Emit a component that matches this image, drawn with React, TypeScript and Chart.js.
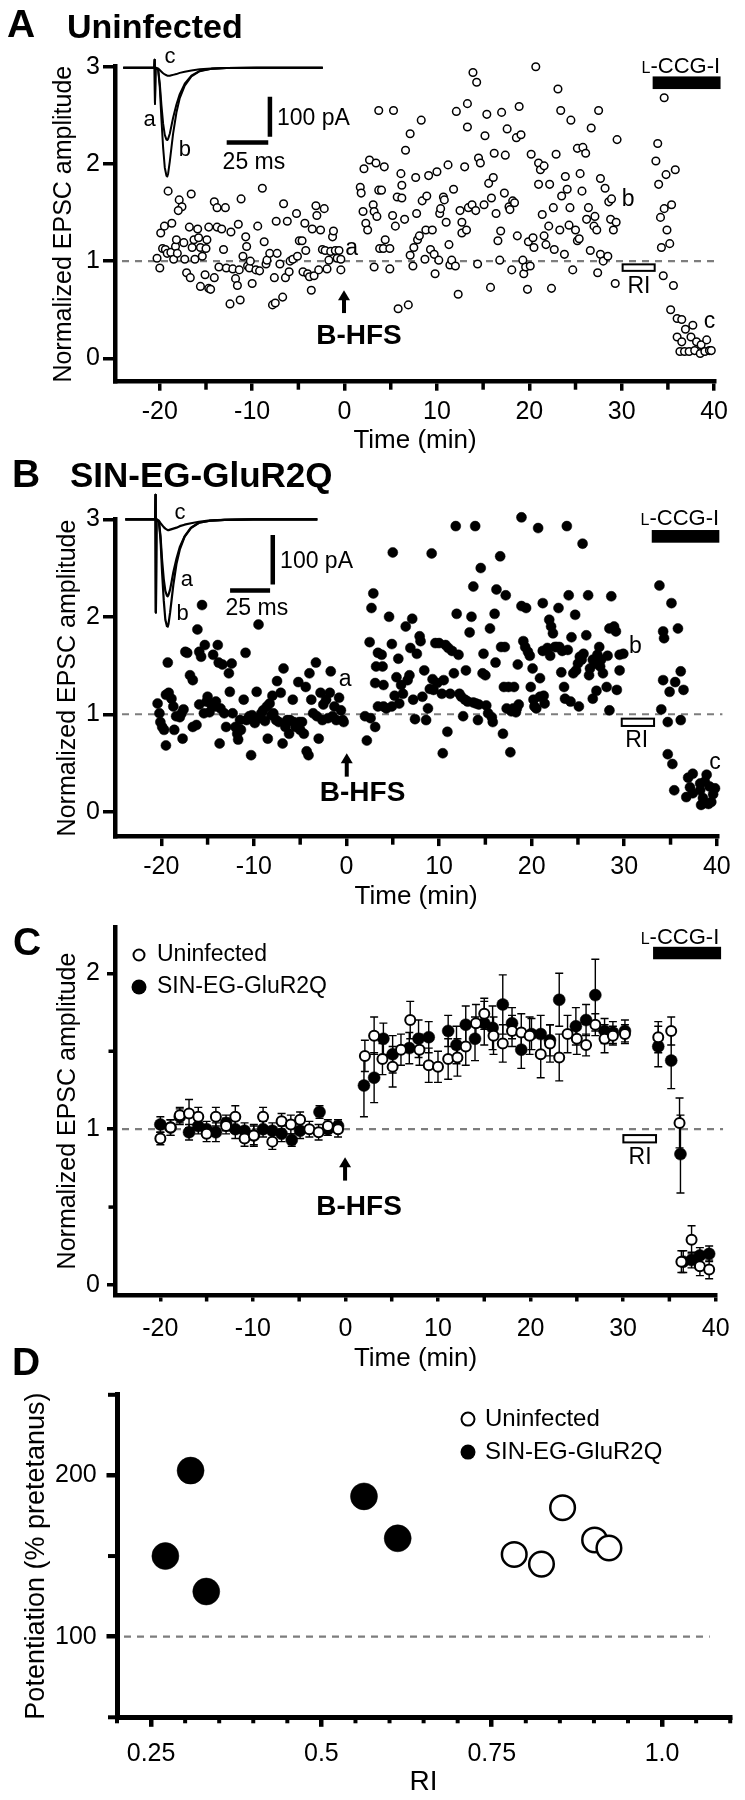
import React, { useEffect, useRef } from "react";
import { Chart, registerables } from "chart.js";

Chart.register(...registerables);

const FONT = '"Liberation Sans", Arial, Helvetica, sans-serif';
const INK = "#000000";
const DASH = "#7d7d7d";
Chart.defaults.color = INK;
Chart.defaults.font.family = FONT;

// ---------------- axis ticks ----------------
const timeTicks = [-20, -10, 0, 10, 20, 30, 40];
const timeMinorTicks = [-15, -5, 5, 15, 25, 35];
const ampTicksAB = [0, 1, 2, 3];
const ampTicksC = [0, 1, 2];
const ampMinorTicksC = [0.5, 1.5];
const riTicks = [0.25, 0.5, 0.75, 1.0];
const riTickLabels = ["0.25", "0.5", "0.75", "1.0"];
const riMinorTicks = [0.2, 0.3, 0.35, 0.4, 0.45, 0.55, 0.6, 0.65, 0.7, 0.8, 0.85, 0.9, 0.95, 1.05, 1.1];
const potTicks = [100, 200];
const potMinorTicks = [50, 150, 250];

// ---------------- panel A: uninfected, single cell [time (min), normalized EPSC] ----------------
const uninfectedA: [number, number][] = [
  [-20.3, 1.03], [-20.0, 0.93], [-19.9, 1.29], [-19.5, 1.36], [-19.1, 1.72], [-19.7, 1.13], [-19.4, 1.12], [-18.7, 1.39],
  [-19.2, 1.08], [-18.8, 1.09], [-18.5, 1.02], [-18.3, 1.15], [-18.2, 1.22], [-17.9, 1.63], [-17.6, 1.56], [-18.0, 1.52],
  [-18.1, 1.08], [-17.3, 1.02], [-17.4, 1.19], [-17.1, 0.88], [-16.6, 1.69], [-16.8, 1.35], [-16.7, 0.83], [-16.5, 1.14],
  [-16.3, 1.22], [-16.2, 1.02], [-15.9, 1.33], [-15.8, 1.24], [-15.6, 0.74], [-15.6, 1.14], [-15.4, 1.05], [-15.1, 0.86],
  [-15.0, 1.13], [-14.7, 0.72], [-14.5, 0.71], [-14.9, 1.22], [-14.1, 0.83], [-14.1, 1.61], [-13.8, 1.55], [-14.7, 1.35],
  [-13.8, 1.35], [-13.6, 0.94], [-13.3, 1.33], [-13.1, 1.12], [-12.9, 1.55], [-12.8, 0.93], [-12.4, 0.56], [-12.3, 1.30],
  [-12.1, 0.92], [-11.8, 0.82], [-11.6, 0.75], [-11.5, 1.38], [-11.3, 0.60], [-11.4, 0.91], [-11.2, 1.64], [-11.0, 1.05],
  [-10.7, 1.25], [-10.6, 1.15], [-10.5, 0.95], [-10.3, 0.93], [-10.2, 1.00], [-10.0, 0.77], [-9.6, 0.91], [-9.4, 1.36],
  [-9.2, 0.90], [-8.9, 1.75], [-8.7, 1.20], [-8.5, 0.97], [-8.4, 1.01], [-8.1, 1.08], [-7.8, 0.55], [-7.5, 0.57],
  [-7.6, 0.83], [-7.4, 1.41], [-7.3, 1.08], [-7.0, 0.97], [-6.7, 0.63], [-6.6, 1.59], [-6.4, 0.83], [-6.2, 1.41],
  [-6.0, 0.89], [-5.9, 1.00], [-5.6, 1.02], [-5.2, 1.49], [-5.1, 1.05], [-4.9, 1.21], [-4.6, 1.21], [-4.5, 0.89],
  [-4.3, 1.39], [-4.2, 1.11], [-4.0, 0.87], [-3.8, 0.84], [-3.6, 0.70], [-3.5, 1.33], [-3.3, 0.85], [-3.1, 1.57],
  [-3.0, 1.47], [-2.8, 0.91], [-2.6, 1.32], [-2.4, 1.12], [-2.2, 1.54], [-2.1, 1.11], [-1.9, 0.92], [-1.7, 1.01],
  [-1.5, 1.10], [-1.3, 1.25], [-1.2, 1.31], [-1.0, 1.11], [-0.8, 1.03], [-0.6, 1.11], [-0.4, 0.91], [-0.4, 1.02],
  [1.7, 1.76], [1.8, 1.70], [2.1, 1.95], [2.7, 2.04], [3.4, 2.01], [2.0, 1.51], [2.3, 1.39], [2.5, 1.32],
  [3.1, 1.58], [3.2, 1.51], [3.7, 1.73], [3.2, 0.94], [3.5, 1.46], [3.8, 1.13], [3.7, 2.55],
  [4.0, 1.73], [4.3, 1.97], [4.4, 1.22], [4.2, 1.13], [4.9, 1.13], [4.9, 0.92], [5.3, 2.55], [5.2, 1.47],
  [5.5, 1.36], [5.7, 1.66], [5.8, 0.51], [6.1, 1.90], [6.2, 1.78], [6.2, 1.65], [6.5, 1.43], [6.6, 2.14],
  [6.9, 0.55], [7.1, 1.06], [7.1, 2.31], [7.4, 0.95], [7.5, 1.14], [7.7, 1.86], [7.8, 1.49], [7.9, 1.22],
  [8.1, 1.26], [8.3, 2.45], [8.4, 1.62], [8.7, 1.02], [8.8, 1.32], [8.9, 1.67], [9.1, 1.88], [9.3, 1.12],
  [9.5, 1.32], [9.7, 1.07], [9.8, 0.87], [10.0, 1.92], [10.2, 1.01], [10.3, 1.49], [10.4, 1.54], [10.7, 1.66],
  [10.8, 1.63], [11.0, 1.40], [11.2, 1.99], [11.3, 1.17], [11.4, 0.96], [11.6, 1.01], [11.8, 1.74], [12.0, 0.95],
  [12.1, 2.54], [12.3, 0.66], [12.5, 1.52], [12.7, 1.40], [12.7, 1.29], [13.0, 1.97], [13.2, 1.32], [13.3, 2.62],
  [13.3, 2.38], [13.4, 1.55], [13.8, 1.58], [13.9, 2.94], [14.2, 1.52], [14.3, 2.84], [14.4, 0.97], [14.5, 2.06],
  [14.7, 2.01], [15.1, 1.58], [15.2, 2.29], [15.4, 2.51], [15.6, 1.80], [15.8, 0.73], [15.9, 1.65], [16.1, 1.86],
  [16.2, 2.11], [16.4, 1.49], [16.6, 1.21], [16.8, 1.01], [16.9, 1.31], [17.0, 2.53], [17.3, 1.70], [17.4, 2.09],
  [17.6, 2.36], [17.8, 1.56], [17.9, 1.53], [18.1, 0.91], [18.2, 1.62], [18.4, 1.60], [18.6, 2.27], [18.7, 1.26],
  [18.9, 2.59], [19.1, 2.30], [19.3, 1.01], [19.4, 0.87], [19.6, 0.94], [19.8, 0.71], [19.9, 1.20], [20.1, 0.95],
  [20.2, 2.10], [20.4, 1.24], [20.5, 1.14], [20.7, 3.00], [21.0, 2.01], [21.0, 1.79], [21.2, 1.94], [21.4, 1.48],
  [21.6, 1.98], [21.6, 1.26], [21.8, 1.17], [22.1, 1.36], [22.2, 1.79], [22.4, 0.72], [22.6, 1.55], [22.7, 1.12],
  [22.9, 2.10], [23.1, 2.77], [23.3, 1.32], [23.4, 2.55], [23.5, 1.67], [23.8, 1.07], [23.9, 1.87], [24.1, 1.74],
  [24.3, 1.37], [24.4, 1.55], [24.5, 2.45], [24.7, 0.91], [25.0, 1.32], [25.2, 2.16], [25.2, 1.21], [25.4, 1.23],
  [25.5, 1.90], [25.7, 1.72], [25.8, 2.17], [26.1, 2.11], [26.2, 1.43], [26.4, 1.55], [26.6, 1.11], [26.7, 2.37],
  [27.0, 1.36], [27.1, 1.46], [27.3, 1.32], [27.4, 0.88], [27.5, 2.55], [27.7, 1.85], [27.7, 1.07], [28.0, 1.00],
  [28.2, 1.75], [28.5, 1.05], [28.6, 1.61], [28.8, 1.43], [28.9, 1.64], [29.1, 1.32], [29.3, 0.77], [29.4, 1.40],
  [29.5, 2.25],
  [33.9, 2.21], [33.7, 2.03], [34.0, 1.79], [34.2, 1.45], [34.3, 1.14], [34.5, 0.85], [34.6, 2.68], [34.6, 1.54],
  [34.8, 1.89], [34.9, 1.32], [35.2, 1.18], [35.4, 1.58], [35.6, 0.75], [35.8, 1.94], [35.3, 0.50], [36.0, 0.41],
  [36.5, 0.40], [36.9, 0.30], [37.7, 0.34], [36.0, 0.22], [36.5, 0.17], [37.5, 0.22], [38.1, 0.17], [38.6, 0.14],
  [39.2, 0.19], [36.3, 0.07], [36.8, 0.07], [37.3, 0.07], [37.9, 0.08], [38.5, 0.05], [39.0, 0.07], [39.5, 0.08],
  [39.7, 0.08],
];

// ---------------- panel B: SIN-EG-GluR2Q, single cell ----------------
const sinB: [number, number][] = [
  [-20.4, 1.11], [-20.2, 1.01], [-20.1, 0.92], [-19.9, 0.87], [-19.7, 0.84], [-19.5, 0.68], [-19.3, 1.53], [-19.5, 1.20],
  [-19.2, 1.22], [-18.9, 1.16], [-18.7, 1.08], [-18.6, 0.84], [-18.4, 0.98], [-18.0, 0.97], [-17.8, 1.01], [-17.7, 0.75],
  [-17.6, 1.05], [-17.4, 1.64], [-17.2, 1.63], [-16.9, 1.40], [-16.6, 1.35], [-16.6, 0.87], [-16.2, 0.89], [-16.1, 1.87],
  [-15.9, 1.64], [-15.9, 1.10], [-15.7, 1.59], [-15.6, 2.12], [-15.4, 1.01], [-15.3, 1.71], [-15.1, 1.13], [-15.0, 1.18],
  [-14.8, 1.02], [-14.6, 1.10], [-14.4, 1.61], [-14.2, 1.08], [-14.1, 1.13], [-13.9, 1.71], [-13.8, 1.53], [-13.7, 0.70],
  [-13.6, 1.06], [-13.4, 1.51], [-13.2, 1.01], [-13.0, 0.87], [-12.7, 1.42], [-12.6, 1.23], [-12.4, 1.52], [-12.3, 1.01],
  [-12.0, 0.87], [-11.8, 0.80], [-11.7, 0.74], [-11.5, 0.94], [-11.4, 0.84], [-11.1, 1.15], [-10.9, 1.63], [-10.8, 0.94],
  [-10.5, 0.98], [-10.3, 0.58], [-10.2, 0.99], [-9.9, 0.91], [-9.7, 1.23], [-9.5, 1.92], [-9.4, 0.96], [-9.2, 1.01],
  [-9.0, 1.04], [-8.8, 0.93], [-8.6, 1.08], [-8.5, 0.75], [-8.3, 1.11], [-8.1, 0.99], [-8.0, 1.19], [-7.9, 1.01],
  [-7.6, 0.94], [-7.5, 1.34], [-7.3, 0.92], [-7.1, 1.22], [-6.9, 0.70], [-6.8, 1.47], [-6.6, 0.87], [-6.4, 0.94],
  [-6.2, 0.80], [-6.1, 0.94], [-5.8, 1.15], [-5.7, 0.92], [-5.5, 0.87], [-5.2, 1.33], [-5.1, 0.92], [-5.0, 0.84],
  [-4.8, 0.92], [-4.6, 0.80], [-4.4, 1.28], [-4.3, 0.62], [-4.1, 0.58], [-4.0, 1.42], [-3.8, 1.15], [-3.6, 1.01],
  [-3.3, 1.53], [-3.2, 0.98], [-3.0, 0.75], [-2.8, 1.22], [-2.6, 0.94], [-2.5, 1.10], [-2.2, 1.15], [-2.0, 0.96],
  [-1.8, 1.22], [-1.7, 1.44], [-1.5, 0.98], [-1.3, 1.08], [-1.1, 0.94], [-0.8, 1.17], [-0.6, 1.04], [-0.4, 0.94],
  [-0.3, 0.92],
  [2.0, 0.98], [2.2, 0.73], [2.6, 0.96], [2.9, 2.24], [2.7, 2.09], [2.5, 1.74], [3.1, 0.87], [3.2, 1.49],
  [3.1, 1.32], [3.4, 1.63], [3.4, 1.08],
  [3.8, 1.61], [3.9, 1.49], [4.0, 1.30], [4.0, 1.08], [4.3, 1.06], [4.6, 2.00], [4.9, 1.08], [4.9, 1.72],
  [5.0, 2.66], [5.2, 1.19], [5.4, 1.38], [5.6, 1.57], [5.7, 1.11], [5.9, 1.30], [6.1, 1.21], [6.4, 1.90],
  [6.6, 1.35], [6.8, 1.40], [6.9, 1.68], [7.1, 1.98], [7.2, 1.15], [7.4, 0.95], [7.6, 1.62], [7.9, 1.80],
  [8.0, 1.75], [8.2, 1.18], [8.4, 1.45], [8.6, 0.94], [8.8, 1.06], [9.0, 1.26], [9.2, 2.65], [9.3, 1.36],
  [9.4, 1.25], [9.6, 1.73], [9.8, 1.32], [10.0, 1.73], [10.3, 1.21], [10.4, 0.60], [10.5, 1.35], [10.7, 1.71],
  [10.9, 0.82], [11.0, 1.68], [11.2, 1.21], [11.4, 1.65], [11.6, 1.42], [11.8, 2.93], [11.9, 2.03], [12.1, 1.61],
  [12.2, 1.21], [12.4, 1.18], [12.6, 0.98], [12.8, 1.15], [12.9, 1.45], [13.1, 1.13], [13.3, 1.84], [13.5, 2.00],
  [13.7, 2.31], [13.7, 1.12], [13.9, 2.93], [14.0, 1.11], [14.2, 0.94], [14.3, 1.10], [14.5, 2.50], [14.7, 1.42],
  [14.8, 1.62], [15.0, 1.40], [15.1, 1.09], [15.3, 1.01], [15.5, 1.88], [15.7, 0.97], [15.8, 0.92], [16.0, 2.03],
  [16.1, 1.53], [16.2, 2.28], [16.6, 2.62], [16.7, 1.69], [16.9, 0.80], [17.0, 1.28], [17.1, 1.69], [17.2, 2.22],
  [17.3, 1.06], [17.5, 1.28], [17.7, 0.61], [17.8, 1.03], [18.0, 1.06], [18.1, 1.28], [18.3, 1.02], [18.4, 1.06],
  [18.5, 1.51], [18.6, 1.10], [18.9, 2.11], [18.9, 3.02], [19.1, 1.75], [19.3, 1.69], [19.4, 2.09], [19.6, 1.64],
  [19.8, 1.60], [19.9, 1.28], [20.1, 1.47], [20.2, 1.15], [20.3, 1.08], [20.5, 1.06], [20.7, 2.91], [20.9, 1.37],
  [20.9, 1.18], [21.2, 2.14], [21.2, 1.65], [21.3, 1.19], [21.4, 1.11], [21.7, 1.68], [21.9, 1.97], [22.0, 1.60],
  [22.1, 1.90], [22.3, 1.83], [22.5, 1.69], [22.7, 1.69], [22.9, 2.09], [23.0, 1.69], [23.2, 1.43], [23.3, 1.65],
  [23.5, 1.28], [23.6, 1.16], [23.8, 2.93], [23.9, 1.66], [24.0, 2.22], [24.2, 1.13], [24.3, 1.79], [24.5, 1.42],
  [24.7, 2.02], [24.8, 1.45], [25.0, 1.52], [25.1, 1.08], [25.2, 1.59], [25.4, 1.56], [25.5, 2.75], [25.6, 1.62],
  [25.9, 1.81], [26.1, 2.22], [26.2, 1.40], [26.3, 1.47], [26.6, 1.16], [26.6, 1.56], [26.8, 1.52], [27.0, 1.24],
  [27.1, 1.61], [27.3, 1.69], [27.4, 1.49], [27.5, 1.56], [27.7, 1.42], [28.1, 1.28], [28.2, 1.60], [28.4, 1.04],
  [28.4, 1.88], [28.6, 2.21], [28.9, 1.90], [29.1, 1.85], [29.2, 1.25], [29.5, 1.45], [29.5, 1.61], [29.9, 1.62],
  [33.8, 2.32], [35.1, 2.14], [34.2, 1.85], [34.3, 1.78], [35.8, 1.88], [34.2, 1.35], [34.9, 1.23], [35.5, 1.33],
  [36.1, 1.44], [36.4, 1.25], [34.0, 1.05], [34.7, 0.92], [36.1, 0.94], [34.7, 0.59], [35.2, 0.49], [35.4, 0.22],
  [36.9, 0.35], [37.4, 0.39], [38.9, 0.38], [36.7, 0.15], [37.1, 0.25], [37.4, 0.19], [38.2, 0.29], [38.2, 0.22],
  [38.7, 0.31], [39.2, 0.26], [39.6, 0.18], [38.5, 0.14], [38.7, 0.09], [39.1, 0.08], [38.3, 0.07], [39.4, 0.10],
  [39.8, 0.24],
];

// ---------------- panel C: averages [time, mean, sem] ----------------
const uninfectedC: [number, number, number][] = [
  [-20, 0.94, 0.04], [-18.9, 1.01, 0.05], [-17.9, 1.09, 0.05], [-16.9, 1.10, 0.09], [-15.9, 1.08, 0.06],
  [-15.0, 0.97, 0.05], [-14.0, 1.08, 0.06], [-12.9, 1.02, 0.05], [-11.9, 1.08, 0.07], [-10.9, 0.94, 0.05],
  [-9.9, 0.96, 0.07], [-8.9, 1.08, 0.06], [-7.9, 0.92, 0.05], [-6.9, 1.05, 0.05], [-5.9, 1.03, 0.06],
  [-4.9, 1.06, 0.05], [-3.9, 1.00, 0.05], [-2.9, 0.98, 0.05], [-1.9, 1.02, 0.04], [-0.8, 1.00, 0.05],
  [2.1, 1.47, 0.10], [3.1, 1.60, 0.12], [4.0, 1.45, 0.10], [5.1, 1.40, 0.13], [6.0, 1.51, 0.10],
  [7.0, 1.70, 0.12], [8.0, 1.51, 0.10], [9.0, 1.41, 0.11], [10.0, 1.40, 0.10], [11.1, 1.45, 0.13],
  [12.1, 1.46, 0.12], [13.0, 1.53, 0.12], [14.1, 1.68, 0.12], [15.0, 1.74, 0.10], [16.0, 1.60, 0.12],
  [17.0, 1.55, 0.12], [18.0, 1.63, 0.10], [19.0, 1.62, 0.12], [19.9, 1.60, 0.12], [21.1, 1.48, 0.15],
  [22.1, 1.55, 0.12], [23.1, 1.46, 0.15], [24.0, 1.61, 0.12], [25.0, 1.58, 0.10], [26.0, 1.54, 0.07],
  [27.0, 1.67, 0.07], [28.0, 1.58, 0.09], [28.9, 1.60, 0.06], [30.2, 1.61, 0.06],
  [33.8, 1.59, 0.10], [35.2, 1.63, 0.09], [36.1, 1.04, 0.16], [36.3, 0.15, 0.07], [37.4, 0.29, 0.09],
  [38.3, 0.12, 0.06], [39.3, 0.10, 0.06],
];
const sinC: [number, number, number][] = [
  [-20, 1.03, 0.05], [-18.9, 1.01, 0.05], [-17.9, 1.08, 0.05], [-16.9, 0.98, 0.05], [-15.9, 1.02, 0.05],
  [-15.0, 1.00, 0.05], [-14.0, 0.98, 0.06], [-12.9, 1.04, 0.05], [-11.9, 1.00, 0.06], [-10.9, 0.99, 0.05],
  [-9.9, 0.96, 0.06], [-8.9, 1.00, 0.05], [-7.9, 0.99, 0.05], [-6.9, 0.97, 0.05], [-5.8, 0.93, 0.04],
  [-4.9, 0.99, 0.05], [-2.8, 1.11, 0.04], [-1.9, 1.00, 0.04], [-0.8, 1.02, 0.04],
  [2.0, 1.28, 0.20], [3.1, 1.33, 0.16], [4.1, 1.58, 0.10], [5.1, 1.48, 0.12], [6.9, 1.52, 0.10],
  [7.9, 1.58, 0.12], [9.0, 1.59, 0.10], [11.1, 1.63, 0.10], [12.0, 1.54, 0.12], [13.0, 1.67, 0.12],
  [14.0, 1.58, 0.14], [15.0, 1.68, 0.14], [15.9, 1.65, 0.14], [17.0, 1.80, 0.19], [18.0, 1.68, 0.10],
  [19.0, 1.51, 0.12], [20.1, 1.61, 0.10], [21.1, 1.61, 0.12], [22.1, 1.57, 0.10], [23.1, 1.83, 0.17],
  [24.9, 1.66, 0.12], [26.0, 1.70, 0.10], [27.0, 1.86, 0.23], [28.0, 1.63, 0.08], [28.9, 1.62, 0.07],
  [30.2, 1.63, 0.07],
  [33.8, 1.53, 0.13], [35.2, 1.44, 0.18], [36.2, 0.84, 0.25], [36.5, 0.15, 0.07], [37.4, 0.16, 0.05],
  [38.3, 0.19, 0.05], [39.3, 0.20, 0.05],
];

// ---------------- panel D: RI vs potentiation ----------------
const riUninfected = [0.783, 0.823, 0.854, 0.901, 0.922];
const potUninfected = [151, 145, 180, 160, 155];
const riSin = [0.308, 0.271, 0.331, 0.5625, 0.612];
const potSin = [203, 150, 128, 187, 161];

// ---------------- inset EPSC traces (ms after stimulus, pA) ----------------
const traceMs = [-19, -0.3, -0.1, 0.1, 0.4, 2, 3, 4, 5, 6, 7, 7.5, 8, 9, 10, 11, 13, 15, 18, 22, 27, 34, 43, 61, 101];
const traceA_a = [0, 0, 20, -90, 0, -5, -40, -95, -140, -168, -180, -181, -178, -165, -145, -125, -92, -66, -40, -20, -8, -3, -1, 0, 0];
const traceA_b = [0, 0, 20, -90, 0, -5, -50, -130, -200, -250, -270, -272, -265, -235, -200, -165, -112, -76, -45, -22, -9, -3, -1, 0, 0];
const traceA_c = [0, 0, 20, -90, 0, -2, -6, -10, -14, -17, -19, -20, -20, -20, -19, -18, -16, -13, -10, -7, -4, -2, -1, 0, 0];
const traceB_a = [0, 0, 50, -190, 0, -5, -35, -85, -122, -146, -156, -157, -154, -143, -126, -108, -80, -57, -35, -17, -7, -3, -1, 0, 0];
const traceB_b = [0, 0, 50, -190, 0, -5, -42, -110, -165, -205, -218, -219, -213, -190, -162, -134, -90, -62, -36, -18, -7, -3, -1, 0, 0];
const traceB_c = [0, 0, 50, -190, 0, -3, -8, -12, -16, -19, -21, -22, -22, -21, -20, -19, -17, -14, -11, -8, -5, -2, -1, 0, 0];

// ---------------- decoration plugin ----------------
function decoPlugin(d: any) {
  return {
    id: "deco",
    beforeDatasetsDraw(chart: any) {
      const ctx = chart.ctx;
      const { x, y } = chart.scales;
      const a = chart.chartArea;
      ctx.save();
      const yy = y.getPixelForValue(d.ref.value);
      ctx.strokeStyle = DASH;
      ctx.lineWidth = 2.2;
      ctx.setLineDash([7, 6]);
      ctx.beginPath();
      ctx.moveTo(a.left + 7, yy);
      ctx.lineTo(x.getPixelForValue(d.ref.end), yy);
      ctx.stroke();
      ctx.setLineDash([]);
      if (d.errors) {
        ctx.strokeStyle = INK;
        ctx.lineWidth = 1.4;
        for (const series of d.errors) {
          for (const [t, m, s] of series) {
            const px = x.getPixelForValue(t);
            const y1 = y.getPixelForValue(m + s);
            const y2 = y.getPixelForValue(m - s);
            ctx.beginPath();
            ctx.moveTo(px, y1); ctx.lineTo(px, y2);
            ctx.moveTo(px - 4, y1); ctx.lineTo(px + 4, y1);
            ctx.moveTo(px - 4, y2); ctx.lineTo(px + 4, y2);
            ctx.stroke();
          }
        }
      }
      ctx.restore();
    },
    afterDatasetsDraw(chart: any) {
      const ctx = chart.ctx;
      const { x, y } = chart.scales;
      const a = chart.chartArea;
      const X = (v: number) => x.getPixelForValue(v);
      const Y = (v: number) => y.getPixelForValue(v);
      ctx.save();
      ctx.fillStyle = INK;
      ctx.strokeStyle = INK;
      // minor ticks
      if (d.minorX) {
        ctx.lineWidth = d.minorX.width;
        for (const v of d.minorX.values) {
          ctx.beginPath();
          ctx.moveTo(X(v), a.bottom);
          ctx.lineTo(X(v), a.bottom + d.minorX.len);
          ctx.stroke();
        }
      }
      if (d.minorY) {
        ctx.lineWidth = d.minorY.width;
        for (const v of d.minorY.values) {
          ctx.beginPath();
          ctx.moveTo(a.left, Y(v));
          ctx.lineTo(a.left - d.minorY.len, Y(v));
          ctx.stroke();
        }
      }
      // L-CCG-I bar
      if (d.lccg) {
        const l = d.lccg;
        ctx.fillRect(X(l.x0), Y(l.yTop), X(l.x1) - X(l.x0), Y(l.yBottom) - Y(l.yTop));
        ctx.textAlign = "left";
        ctx.textBaseline = "alphabetic";
        ctx.font = `16px ${FONT}`;
        const wL = ctx.measureText("L").width;
        ctx.font = `22px ${FONT}`;
        const wR = ctx.measureText("-CCG-I").width;
        const sx = X(l.textX) - (wL + wR) / 2;
        ctx.font = `16px ${FONT}`;
        ctx.fillText("L", sx, Y(l.textY));
        ctx.font = `22px ${FONT}`;
        ctx.fillText("-CCG-I", sx + wL, Y(l.textY));
      }
      // RI box
      if (d.ri) {
        const r = d.ri;
        ctx.lineWidth = 2;
        ctx.fillStyle = "#ffffff";
        const bx = X(r.x0), by = Y(r.yTop), bw = X(r.x1) - X(r.x0), bh = Y(r.yBottom) - Y(r.yTop);
        ctx.fillRect(bx, by, bw, bh);
        ctx.strokeRect(bx, by, bw, bh);
        ctx.fillStyle = INK;
        ctx.font = `23px ${FONT}`;
        ctx.textAlign = "center";
        ctx.textBaseline = "middle";
        ctx.fillText("RI", X(r.textX), Y(r.textY));
      }
      // B-HFS arrow
      if (d.arrow) {
        const ar = d.arrow;
        const ax = X(ar.x), yt = Y(ar.top), yb = Y(ar.bottom);
        ctx.fillRect(ax - 2, yt + 8, 4, yb - yt - 8);
        ctx.beginPath();
        ctx.moveTo(ax, yt);
        ctx.lineTo(ax - 6, yt + 10);
        ctx.lineTo(ax + 6, yt + 10);
        ctx.closePath();
        ctx.fill();
        ctx.font = `bold 28px ${FONT}`;
        ctx.textAlign = "center";
        ctx.textBaseline = "middle";
        ctx.fillText("B-HFS", X(ar.textX), Y(ar.textY));
      }
      // inset traces
      if (d.trace) {
        const tr = d.trace;
        ctx.lineWidth = tr.width;
        ctx.lineJoin = "round";
        for (const s of tr.series) {
          ctx.beginPath();
          traceMs.forEach((ms: number, i: number) => {
            const px = X(tr.t0 + ms * tr.minPerMs);
            const py = Y(tr.base + s[i] * tr.unitPerPA);
            if (i === 0) ctx.moveTo(px, py); else ctx.lineTo(px, py);
          });
          ctx.stroke();
        }
      }
      // scale bars
      if (d.scaleBar) {
        const sb = d.scaleBar;
        ctx.lineWidth = 4.5;
        ctx.beginPath();
        ctx.moveTo(X(sb.vx), Y(sb.vTop));
        ctx.lineTo(X(sb.vx), Y(sb.vBottom));
        ctx.moveTo(X(sb.hx0), Y(sb.hy));
        ctx.lineTo(X(sb.hx1), Y(sb.hy));
        ctx.stroke();
        ctx.font = `23px ${FONT}`;
        ctx.textBaseline = "middle";
        ctx.textAlign = "left";
        ctx.fillText("100 pA", X(sb.pAx), Y(sb.pAy));
        ctx.textAlign = "center";
        ctx.fillText("25 ms", X(sb.msx), Y(sb.msy));
      }
      // small letter labels
      if (d.labels) {
        ctx.textAlign = "center";
        ctx.textBaseline = "middle";
        for (const lb of d.labels) {
          ctx.font = `${lb.size}px ${FONT}`;
          ctx.fillText(lb.text, X(lb.x), Y(lb.y));
        }
      }
      // legend
      if (d.legend) {
        const lg = d.legend;
        lg.items.forEach((it: any, i: number) => {
          const cx = a.left + lg.dx;
          const cy = a.top + lg.dy + i * lg.step;
          ctx.beginPath();
          if (it.filled) {
            ctx.arc(cx, cy, lg.rFilled, 0, Math.PI * 2);
            ctx.fillStyle = INK;
            ctx.fill();
          } else {
            ctx.arc(cx, cy, lg.rOpen, 0, Math.PI * 2);
            ctx.fillStyle = "#ffffff";
            ctx.fill();
            ctx.lineWidth = 2;
            ctx.stroke();
          }
          ctx.fillStyle = INK;
          ctx.font = `${lg.size}px ${FONT}`;
          ctx.textAlign = "left";
          ctx.textBaseline = "middle";
          ctx.fillText(it.label, a.left + lg.textDx, cy);
        });
      }
      ctx.restore();
    },
  };
}

// ---------------- options builder ----------------
function buildOptions(p: any) {
  return {
    animation: false,
    responsive: false,
    maintainAspectRatio: false,
    events: [],
    layout: { padding: { left: 0, top: p.padTop, right: p.padRight, bottom: 0 } },
    plugins: { legend: { display: false }, tooltip: { enabled: false } },
    scales: {
      x: {
        type: "linear",
        position: "bottom",
        min: p.xMin,
        max: p.xMax,
        afterBuildTicks: (s: any) => { s.ticks = p.xTicks.map((v: number) => ({ value: v })); },
        afterFit: (s: any) => { s.height = p.xHeight; s.paddingLeft = 0; s.paddingRight = 0; },
        ticks: {
          autoSkip: false, maxRotation: 0, minRotation: 0, color: INK,
          font: { family: FONT, size: 25 }, padding: p.xTickPad,
          callback: p.xLabel || ((v: number) => String(v)),
        },
        grid: { drawOnChartArea: false, drawTicks: true, tickLength: p.xTickLen, tickWidth: p.tickWidth, tickColor: INK, color: INK, lineWidth: p.tickWidth },
        border: { display: true, color: INK, width: p.border },
        title: { display: true, text: p.xTitle, color: INK, font: { family: FONT, size: p.xTitleSize }, padding: { top: 0, bottom: p.xTitlePad } },
      },
      y: {
        type: "linear",
        position: "left",
        min: p.yMin,
        max: p.yMax,
        afterBuildTicks: (s: any) => { s.ticks = p.yTicks.map((v: number) => ({ value: v })); },
        afterFit: (s: any) => { s.width = p.yWidth; s.paddingTop = 0; s.paddingBottom = 0; },
        ticks: {
          autoSkip: false, color: INK, font: { family: FONT, size: 25 }, padding: p.yTickPad,
          callback: (v: number) => String(v),
        },
        grid: { drawOnChartArea: false, drawTicks: true, tickLength: p.yTickLen, tickWidth: p.tickWidth, tickColor: INK, color: INK, lineWidth: p.tickWidth },
        border: { display: true, color: INK, width: p.border },
        title: { display: true, text: p.yTitle, color: INK, font: { family: FONT, size: p.yTitleSize }, padding: { top: p.yTitlePad, bottom: 0 } },
      },
    },
  };
}

const toXY = (pts: [number, number][]) => pts.map(([x, y]) => ({ x, y }));
const toMean = (pts: [number, number, number][]) => pts.map(([x, y]) => ({ x, y }));

// ---------------- chart configs ----------------
function configA() {
  return {
    type: "scatter",
    data: {
      datasets: [{
        label: "Uninfected",
        data: toXY(uninfectedA),
        pointRadius: 3.8, pointBorderWidth: 1.5,
        pointBackgroundColor: "#ffffff", pointBorderColor: INK, clip: false,
      }],
    },
    options: buildOptions({
      padTop: 66.7, padRight: 30, yWidth: 115, xHeight: 83.3,
      xMin: -24.85, xMax: 40.1, yMin: -0.24, yMax: 3,
      xTicks: timeTicks, yTicks: ampTicksAB,
      xTickLen: 9, yTickLen: 12, tickWidth: 3.5, border: 4.5,
      xTickPad: 6, yTickPad: 3,
      xTitle: "Time (min)", xTitleSize: 26, xTitlePad: 8.4,
      yTitle: "Normalized EPSC amplitude", yTitleSize: 25, yTitlePad: 49,
    }),
    plugins: [decoPlugin({
      ref: { value: 1, end: 40.3 },
      minorX: { values: timeMinorTicks, len: 8, width: 3.5 },
      lccg: { textX: 36.4, textY: 2.94, x0: 33.35, x1: 40.7, yTop: 2.9, yBottom: 2.77 },
      ri: { x0: 30.1, x1: 33.57, yTop: 0.967, yBottom: 0.9, textX: 31.87, textY: 0.74 },
      arrow: { x: -0.06, top: 0.7, bottom: 0.466, textX: 1.56, textY: 0.23 },
      trace: { series: [traceA_a, traceA_b, traceA_c], t0: -20.54, minPerMs: 0.18, unitPerPA: 0.004115, base: 2.99, width: 2 },
      scaleBar: { vx: -8.08, vTop: 2.69, vBottom: 2.28, hx0: -12.76, hx1: -8.26, hy: 2.22, pAx: -7.32, pAy: 2.47, msx: -9.81, msy: 2.01 },
      labels: [
        { text: "a", x: 0.77, y: 1.13, size: 23 },
        { text: "b", x: 30.7, y: 1.63, size: 23 },
        { text: "c", x: 39.5, y: 0.38, size: 23 },
        { text: "a", x: -21.1, y: 2.45, size: 22 },
        { text: "b", x: -17.3, y: 2.14, size: 22 },
        { text: "c", x: -18.9, y: 3.1, size: 22 },
      ],
    })],
  };
}

function configB() {
  return {
    type: "scatter",
    data: {
      datasets: [{
        label: "SIN-EG-GluR2Q",
        data: toXY(sinB),
        pointRadius: 5, pointBorderWidth: 0.5,
        pointBackgroundColor: INK, pointBorderColor: INK, clip: false,
      }],
    },
    options: buildOptions({
      padTop: 49.3, padRight: 27.7, yWidth: 115, xHeight: 83.3,
      xMin: -25, xMax: 40.05, yMin: -0.256, yMax: 3,
      xTicks: timeTicks, yTicks: ampTicksAB,
      xTickLen: 9.4, yTickLen: 12, tickWidth: 3.5, border: 4.5,
      xTickPad: 6.4, yTickPad: 3,
      xTitle: "Time (min)", xTitleSize: 26, xTitlePad: 7.4,
      yTitle: "Normalized EPSC amplitude", yTitleSize: 25, yTitlePad: 53,
    }),
    plugins: [decoPlugin({
      ref: { value: 1, end: 40.6 },
      minorX: { values: timeMinorTicks, len: 8, width: 3.5 },
      lccg: { textX: 36.0, textY: 2.94, x0: 32.97, x1: 40.27, yTop: 2.89, yBottom: 2.76 },
      ri: { x0: 29.73, x1: 33.22, yTop: 0.955, yBottom: 0.88, textX: 31.35, textY: 0.73 },
      arrow: { x: 0.03, top: 0.6, bottom: 0.36, textX: 1.74, textY: 0.19 },
      trace: { series: [traceB_a, traceB_b, traceB_c], t0: -20.6, minPerMs: 0.1728, unitPerPA: 0.005026, base: 3.0, width: 2.2 },
      scaleBar: { vx: -7.96, vTop: 2.84, vBottom: 2.33, hx0: -12.57, hx1: -8.25, hy: 2.27, pAx: -7.17, pAy: 2.57, msx: -9.68, msy: 2.08 },
      labels: [
        { text: "a", x: -0.15, y: 1.35, size: 23 },
        { text: "b", x: 31.2, y: 1.69, size: 23 },
        { text: "c", x: 39.8, y: 0.5, size: 23 },
        { text: "c", x: -17.97, y: 3.07, size: 22 },
        { text: "a", x: -17.25, y: 2.38, size: 22 },
        { text: "b", x: -17.7, y: 2.03, size: 22 },
      ],
    })],
  };
}

function configC() {
  return {
    type: "scatter",
    data: {
      datasets: [
        {
          label: "Uninfected",
          data: toMean(uninfectedC),
          pointRadius: 5, pointBorderWidth: 2,
          pointBackgroundColor: "#ffffff", pointBorderColor: INK, clip: false,
        },
        {
          label: "SIN-EG-GluR2Q",
          data: toMean(sinC),
          pointRadius: 6, pointBorderWidth: 0.5,
          pointBackgroundColor: INK, pointBorderColor: INK, clip: false,
        },
      ],
    },
    options: buildOptions({
      padTop: 12, padRight: 29, yWidth: 115, xHeight: 85,
      xMin: -24.9, xMax: 40.04, yMin: -0.064, yMax: 2.297,
      xTicks: timeTicks, yTicks: ampTicksC,
      xTickLen: 6.5, yTickLen: 8, tickWidth: 3.5, border: 4.5,
      xTickPad: 13, yTickPad: 7,
      xTitle: "Time (min)", xTitleSize: 26, xTitlePad: 5.4,
      yTitle: "Normalized EPSC amplitude", yTitleSize: 25, yTitlePad: 53.5,
    }),
    plugins: [decoPlugin({
      ref: { value: 1, end: 40.8 },
      errors: [sinC, uninfectedC],
      minorX: { values: timeMinorTicks, len: 6.5, width: 3.5 },
      minorY: { values: ampMinorTicksC, len: 6.5, width: 3.5 },
      lccg: { textX: 36.15, textY: 2.19, x0: 33.24, x1: 40.59, yTop: 2.17, yBottom: 2.09 },
      ri: { x0: 30.03, x1: 33.56, yTop: 0.962, yBottom: 0.915, textX: 31.83, textY: 0.82 },
      arrow: { x: -0.04, top: 0.82, bottom: 0.67, textX: 1.47, textY: 0.5 },
      legend: {
        dx: 24, dy: 28, step: 32, rOpen: 5.5, rFilled: 7.5, textDx: 42, size: 23,
        items: [{ label: "Uninfected", filled: false }, { label: "SIN-EG-GluR2Q", filled: true }],
      },
    })],
  };
}

function configD() {
  return {
    type: "scatter",
    data: {
      datasets: [
        {
          label: "Uninfected",
          data: riUninfected.map((x, i) => ({ x, y: potUninfected[i] })),
          pointRadius: 12.3, pointBorderWidth: 2.5,
          pointBackgroundColor: "#ffffff", pointBorderColor: INK, clip: false,
        },
        {
          label: "SIN-EG-GluR2Q",
          data: riSin.map((x, i) => ({ x, y: potSin[i] })),
          pointRadius: 13.5, pointBorderWidth: 0.5,
          pointBackgroundColor: INK, pointBorderColor: INK, clip: false,
        },
      ],
    },
    options: buildOptions({
      padTop: 10.7, padRight: 3, yWidth: 117, xHeight: 82.7,
      xMin: 0.2, xMax: 1.1, yMin: 50, yMax: 250,
      xTicks: riTicks, yTicks: potTicks,
      xLabel: (v: number) => { const i = riTicks.indexOf(v); return i >= 0 ? riTickLabels[i] : ""; },
      xTickLen: 9.5, yTickLen: 10.5, tickWidth: 4.5, border: 5,
      xTickPad: 12, yTickPad: 9.8,
      xTitle: "RI", xTitleSize: 28, xTitlePad: 0.8,
      yTitle: "Potentiation (% pretetanus)", yTitleSize: 27, yTitlePad: 20.8,
    }),
    plugins: [decoPlugin({
      ref: { value: 100, end: 1.07 },
      minorX: { values: riMinorTicks, len: 6, width: 4 },
      minorY: { values: potMinorTicks, len: 9, width: 4 },
      legend: {
        dx: 351, dy: 24.3, step: 33, rOpen: 6.5, rFilled: 7.5, textDx: 368, size: 24,
        items: [{ label: "Uninfected", filled: false }, { label: "SIN-EG-GluR2Q", filled: true }],
      },
    })],
  };
}

// ---------------- components ----------------
function Panel({ top, height, make }: { top: number; height: number; make: () => any }) {
  const ref = useRef<HTMLCanvasElement | null>(null);
  useEffect(() => {
    if (!ref.current) return;
    const chart = new Chart(ref.current, make());
    return () => chart.destroy();
  }, []);
  return (
    <canvas
      ref={ref}
      width={745}
      height={height}
      style={{ position: "absolute", left: 0, top, width: 745, height }}
    />
  );
}

function Title({ text, left, baseline, size }: { text: string; left: number; baseline: number; size: number }) {
  return (
    <div
      style={{
        position: "absolute", left, top: baseline - 0.8465 * size,
        fontFamily: FONT, fontWeight: "bold", fontSize: size, lineHeight: 1,
        whiteSpace: "nowrap", color: INK,
      }}
    >
      {text}
    </div>
  );
}

export default function App() {
  return (
    <div style={{ position: "absolute", left: 0, top: 0, width: 745, height: 1800, background: "#ffffff", overflow: "hidden" }}>
      <Panel top={0} height={465} make={configA} />
      <Panel top={470} height={450} make={configB} />
      <Panel top={915} height={465} make={configC} />
      <Panel top={1380} height={420} make={configD} />
      <Title text="A" left={7} baseline={37.3} size={39} />
      <Title text="Uninfected" left={67} baseline={37.3} size={34} />
      <Title text="B" left={12} baseline={486.7} size={39} />
      <Title text="SIN-EG-GluR2Q" left={70} baseline={486.7} size={35} />
      <Title text="C" left={13} baseline={955} size={39} />
      <Title text="D" left={12} baseline={1375} size={39} />
    </div>
  );
}
